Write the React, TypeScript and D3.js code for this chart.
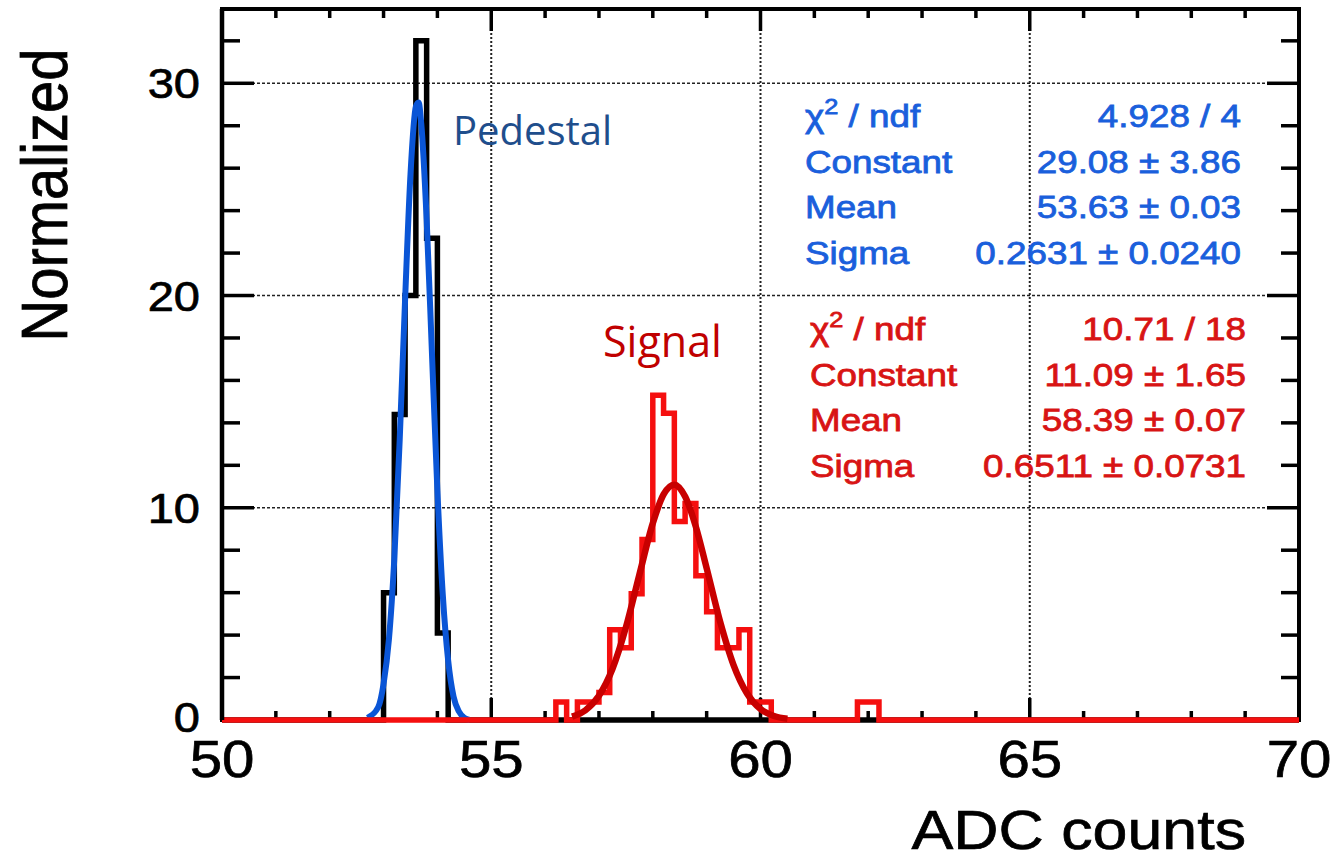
import React, { useEffect, useRef } from "react";
import * as d3 from "d3";

// histogram bin width (ADC counts)
const binWidth = 0.2;

// pedestal histogram (black): lower bin edges and normalized heights
const pedestalEdges = [53.0, 53.2, 53.4, 53.6, 53.8, 54.0];
const pedestalValues = [6.0, 14.4, 20.0, 32.0, 22.7, 4.1];

// signal histogram (red)
const signalEdges = [
  56.2, 56.6, 56.8, 57.0, 57.2, 57.4, 57.6, 57.8, 58.0, 58.2, 58.4, 58.6,
  58.8, 59.0, 59.2, 59.4, 59.6, 59.8, 60.0, 61.8, 62.0,
];
const signalValues = [
  0.85, 0.85, 0.85, 1.3, 4.25, 3.4, 5.95, 8.5, 15.3, 14.45, 9.35, 10.2, 6.8,
  5.1, 3.4, 3.4, 4.25, 0.85, 0.85, 0.85, 0.85,
];

// gaussian fit curves
const pedestalFitX = [
  52.7, 52.9, 53.0, 53.1, 53.2, 53.3, 53.4, 53.5, 53.6, 53.65, 53.7, 53.8,
  53.9, 54.0, 54.1, 54.2, 54.3, 54.4, 54.5, 54.6,
];
const pedestalFitY = [
  0.1, 0.6, 1.7, 3.8, 7.6, 13.2, 19.8, 25.7, 28.9, 29.1, 28.1, 23.6, 17.2,
  10.8, 5.9, 2.8, 1.1, 0.4, 0.1, 0.0,
];
const signalFitX = [
  56.5, 56.75, 57.0, 57.25, 57.5, 57.75, 58.0, 58.2, 58.4, 58.6, 58.8, 59.0,
  59.25, 59.5, 59.75, 60.0, 60.25, 60.5,
];
const signalFitY = [
  0.16, 0.46, 1.14, 2.4, 4.36, 6.84, 9.27, 10.63, 11.09, 10.53, 9.1, 7.15,
  4.64, 2.59, 1.25, 0.52, 0.19, 0.06,
];

// stats box
const statLabels = ["χ² / ndf", "Constant", "Mean", "Sigma"];
const pedestalStats = ["4.928 / 4", "29.08 ± 3.86", "53.63 ± 0.03", "0.2631 ± 0.0240"];
const signalStats = ["10.71 / 18", "11.09 ± 1.65", "58.39 ± 0.07", "0.6511 ± 0.0731"];

// axes
const xTickLabels = [50, 55, 60, 65, 70];
const yTickLabels = [0, 10, 20, 30];

const W = 1334;
const H = 861;
const frame = { left: 222, right: 1299, top: 9, bottom: 720 };
const FONT = "'Liberation Sans', Arial, Helvetica, sans-serif";
const SX = 1.12; // the picture is stretched sideways a bit

const App = () => {
  const ref = useRef<SVGSVGElement>(null);

  useEffect(() => {
    const svg = d3.select(ref.current);
    svg.selectAll("*").remove();

    const x = d3.scaleLinear().domain([50, 70]).range([frame.left, frame.right]);
    const y = d3.scaleLinear().domain([0, 33.5]).range([frame.bottom, frame.top]);

    svg.append("rect").attr("width", W).attr("height", H).attr("fill", "#fff");

    // grid
    const grid = svg.append("g").attr("stroke", "#222").attr("fill", "none");
    grid
      .selectAll("line.v")
      .data(xTickLabels.slice(1, -1))
      .join("line")
      .attr("x1", (d) => x(d))
      .attr("x2", (d) => x(d))
      .attr("y1", frame.top)
      .attr("y2", frame.bottom)
      .attr("stroke-width", 2)
      .attr("stroke-dasharray", "2,2");
    grid
      .selectAll("line.h")
      .data(yTickLabels.slice(1))
      .join("line")
      .attr("x1", frame.left)
      .attr("x2", frame.right)
      .attr("y1", (d) => y(d))
      .attr("y2", (d) => y(d))
      .attr("stroke-width", 1.6)
      .attr("stroke-dasharray", "3,2");

    // ticks
    const xMinor = d3.range(51, 70).filter((d) => d % 5 !== 0);
    const xMajor = [55, 60, 65];
    const yMinor = d3.range(2, 34, 2).filter((d) => d % 10 !== 0);
    const yMajor = [10, 20, 30];
    const ticks = svg.append("g").attr("stroke", "#000").attr("stroke-width", 3.5);
    const xTick = (vals: number[], len: number) => {
      ticks.append("g").selectAll("line").data(vals).join("line")
        .attr("x1", (d) => x(d)).attr("x2", (d) => x(d))
        .attr("y1", frame.bottom).attr("y2", frame.bottom - len);
      ticks.append("g").selectAll("line").data(vals).join("line")
        .attr("x1", (d) => x(d)).attr("x2", (d) => x(d))
        .attr("y1", frame.top).attr("y2", frame.top + len);
    };
    const yTick = (vals: number[], len: number) => {
      ticks.append("g").selectAll("line").data(vals).join("line")
        .attr("x1", frame.left).attr("x2", frame.left + len)
        .attr("y1", (d) => y(d)).attr("y2", (d) => y(d));
      ticks.append("g").selectAll("line").data(vals).join("line")
        .attr("x1", frame.right).attr("x2", frame.right - len)
        .attr("y1", (d) => y(d)).attr("y2", (d) => y(d));
    };
    xTick(xMinor, 9);
    xTick(xMajor, 22);
    yTick(yMinor, 18);
    yTick(yMajor, 32);

    // frame
    svg.append("rect")
      .attr("x", frame.left).attr("y", frame.top)
      .attr("width", frame.right - frame.left)
      .attr("height", frame.bottom - frame.top)
      .attr("fill", "none").attr("stroke", "#000").attr("stroke-width", 4);

    // histograms as steps
    const stepPoints = (edges: number[], values: number[]) => {
      const pts: [number, number][] = [[50, 0]];
      edges.forEach((e, i) => {
        pts.push([e, values[i]]);
        const end = e + binWidth;
        const next = edges[i + 1];
        if (next === undefined || Math.abs(next - end) > 1e-6) pts.push([end, 0]);
      });
      pts.push([70, 0]);
      return pts;
    };
    const step = d3.line<[number, number]>()
      .x((d) => x(d[0])).y((d) => y(d[1]))
      .curve(d3.curveStepAfter);
    const smooth = d3.line<[number, number]>()
      .x((d) => x(d[0])).y((d) => y(d[1]))
      .curve(d3.curveMonotoneX);

    svg.append("path")
      .attr("d", step(stepPoints(pedestalEdges, pedestalValues)))
      .attr("fill", "none").attr("stroke", "#000").attr("stroke-width", 5.5);

    svg.append("path")
      .attr("d", smooth(pedestalFitX.map((d, i) => [d, pedestalFitY[i]] as [number, number])))
      .attr("fill", "none").attr("stroke", "#0a55d6").attr("stroke-width", 6);

    svg.append("path")
      .attr("d", step(stepPoints(signalEdges, signalValues)))
      .attr("fill", "none").attr("stroke", "#f50f0f").attr("stroke-width", 5.5);

    svg.append("path")
      .attr("d", smooth(signalFitX.map((d, i) => [d, signalFitY[i]] as [number, number])))
      .attr("fill", "none").attr("stroke", "#c80000").attr("stroke-width", 6.5);

    // left axis line on top
    svg.append("line")
      .attr("x1", frame.left).attr("x2", frame.left)
      .attr("y1", frame.top).attr("y2", frame.bottom)
      .attr("stroke", "#000").attr("stroke-width", 4.5);

    // tick labels
    const heavy = (sel: any) =>
      sel.attr("font-family", FONT).attr("fill", "#000")
        .attr("stroke", "#000").attr("stroke-width", 0.7);
    svg.append("g").call(heavy).selectAll("text").data(xTickLabels).join("text")
      .attr("transform", (d) => `translate(${x(d)},777) scale(${SX},1)`)
      .attr("text-anchor", "middle")
      .attr("font-size", 52)
      .text((d) => d);
    svg.append("g").call(heavy).selectAll("text").data(yTickLabels).join("text")
      .attr("transform", (d) => `translate(200,${y(d) + (d === 0 ? 12 : 15)}) scale(${SX},1)`)
      .attr("text-anchor", "end")
      .attr("font-size", 42)
      .text((d) => d);

    // axis titles
    svg.append("text").call(heavy)
      .attr("transform", `translate(1246,849) scale(${SX},1)`)
      .attr("text-anchor", "end")
      .attr("font-size", 56)
      .text("ADC counts");
    svg.append("text").call(heavy)
      .attr("transform", `translate(67,195) scale(${SX},1) rotate(-90)`)
      .attr("text-anchor", "middle")
      .attr("font-size", 58)
      .text("Normalized");

    // annotations
    svg.append("text")
      .attr("x", 453).attr("y", 145)
      .attr("font-family", "'Open Sans', 'Noto Sans', sans-serif")
      .attr("font-size", 40).attr("fill", "#1f4e8c")
      .text("Pedestal");
    svg.append("text")
      .attr("x", 603).attr("y", 357)
      .attr("font-family", "'Open Sans', 'Noto Sans', sans-serif")
      .attr("font-size", 43).attr("fill", "#c00000")
      .text("Signal");

    // stats blocks
    const statsBlock = (
      values: string[], color: string, left: number, right: number, top: number
    ) => {
      const gap = 45.5;
      const g = svg.append("g")
        .attr("font-family", FONT).attr("font-size", 32)
        .attr("fill", color).attr("stroke", color).attr("stroke-width", 0.8);
      statLabels.forEach((lab, i) => {
        const t = g.append("text")
          .attr("transform", `translate(${left},${top + i * gap}) scale(1.15,1)`);
        if (lab.includes("²")) {
          const [a, b] = lab.split("²");
          t.append("tspan").text(a);
          t.append("tspan").attr("font-size", 22).attr("dy", -13).text("2");
          t.append("tspan").attr("dy", 13).text(b);
        } else {
          t.text(lab);
        }
      });
      g.selectAll("text.v").data(values).join("text")
        .attr("transform", (_, i) => `translate(${right},${top + i * gap}) scale(1.15,1)`)
        .attr("text-anchor", "end")
        .text((d) => d);
    };
    statsBlock(pedestalStats, "#1a5fdc", 805, 1241, 127);
    statsBlock(signalStats, "#d81414", 810, 1246, 340);
  });

  return (
    <svg
      ref={ref}
      width={W}
      height={H}
      style={{ position: "absolute", left: 0, top: 0 }}
    ></svg>
  );
};

export default App;
